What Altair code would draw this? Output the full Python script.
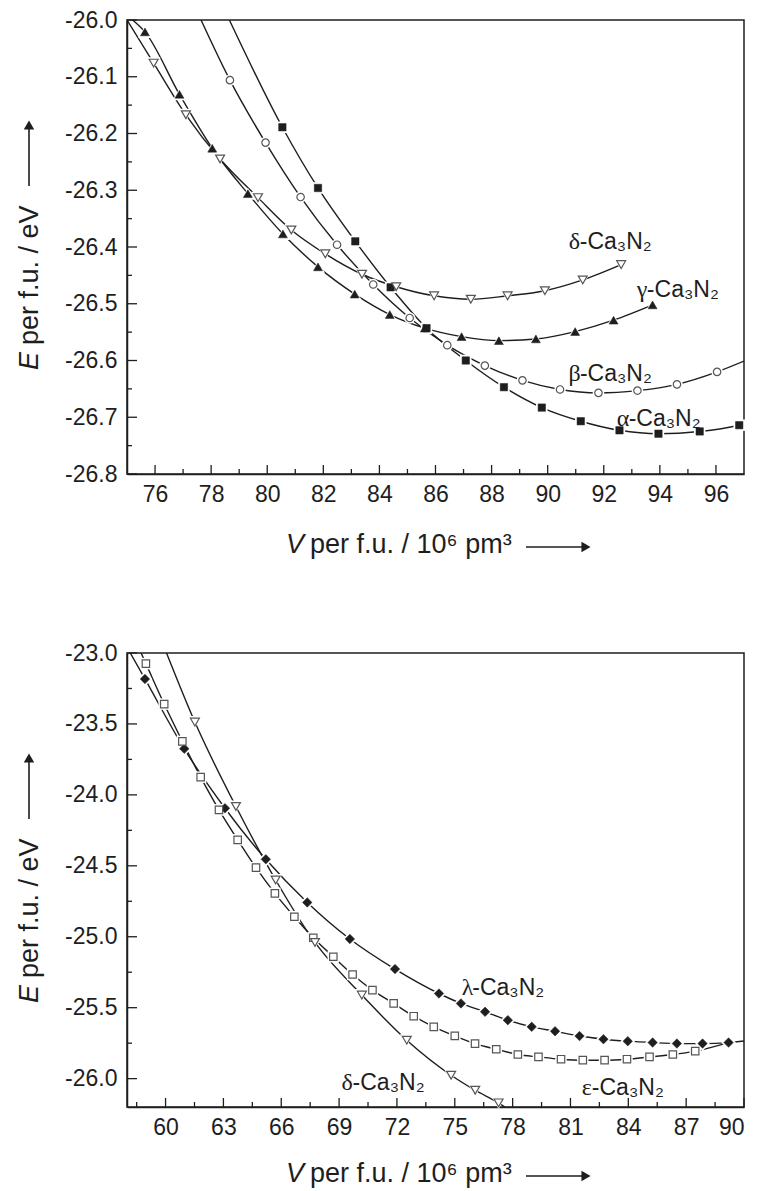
import altair as alt
import pandas as pd

# ---------------- data ----------------
# top panel: alpha, beta, gamma, delta Ca3N2
TOP_ALPHA_V = [80.54, 81.81, 83.14, 84.40, 85.68, 87.08, 88.44, 89.79, 91.18, 92.56, 93.95, 95.42, 96.83]
TOP_ALPHA_E = [-26.189, -26.296, -26.390, -26.471, -26.543, -26.600, -26.647, -26.683, -26.707, -26.723, -26.729, -26.725, -26.714]
TOP_BETA_V = [78.67, 79.94, 81.19, 82.49, 83.78, 85.08, 86.42, 87.76, 89.10, 90.44, 91.81, 93.20, 94.61, 96.04]
TOP_BETA_E = [-26.106, -26.216, -26.312, -26.396, -26.466, -26.525, -26.573, -26.609, -26.635, -26.651, -26.657, -26.653, -26.642, -26.620]
TOP_GAMMA_V = [75.64, 76.87, 78.04, 79.31, 80.56, 81.81, 83.12, 84.37, 85.62, 86.93, 88.26, 89.58, 90.98, 92.35, 93.74]
TOP_GAMMA_E = [-26.021, -26.131, -26.226, -26.306, -26.377, -26.435, -26.483, -26.519, -26.543, -26.558, -26.565, -26.562, -26.549, -26.529, -26.502]
TOP_DELTA_V = [75.95, 77.10, 78.32, 79.67, 80.86, 82.07, 83.38, 84.60, 85.95, 87.26, 88.57, 89.90, 91.25, 92.62]
TOP_DELTA_E = [-26.076, -26.167, -26.245, -26.313, -26.370, -26.412, -26.448, -26.470, -26.486, -26.492, -26.486, -26.477, -26.458, -26.431]
# where the fitted curves meet the frame
TOP_ALPHA_EDGE_V, TOP_ALPHA_EDGE_E = [78.65, 97.0], [-26.0, -26.712]
TOP_BETA_EDGE_V, TOP_BETA_EDGE_E = [77.64, 97.0], [-26.0, -26.601]
TOP_GAMMA_EDGE_V, TOP_GAMMA_EDGE_E = [75.2], [-26.0]
TOP_DELTA_EDGE_V, TOP_DELTA_EDGE_E = [75.0], [-26.0]

# bottom panel: lambda, epsilon, delta Ca3N2
BOT_LAMBDA_V = [58.93, 60.97, 63.08, 65.20, 67.35, 69.56, 71.90, 74.18, 75.32, 76.57, 77.75, 78.99, 80.20, 81.47, 82.71, 83.97, 85.26, 86.52, 87.85, 89.20]
BOT_LAMBDA_E = [-23.183, -23.675, -24.094, -24.454, -24.758, -25.016, -25.228, -25.400, -25.470, -25.529, -25.588, -25.635, -25.666, -25.700, -25.722, -25.736, -25.746, -25.753, -25.753, -25.746]
BOT_EPS_V = [58.98, 59.93, 60.87, 61.82, 62.77, 63.74, 64.69, 65.67, 66.68, 67.66, 68.70, 69.70, 70.73, 71.83, 72.87, 73.91, 75.00, 76.05, 77.15, 78.27, 79.34, 80.51, 81.64, 82.77, 83.93, 85.10, 86.31, 87.47]
BOT_EPS_E = [-23.075, -23.360, -23.623, -23.875, -24.106, -24.317, -24.513, -24.694, -24.859, -25.007, -25.141, -25.266, -25.376, -25.470, -25.560, -25.635, -25.699, -25.753, -25.793, -25.830, -25.847, -25.863, -25.870, -25.870, -25.863, -25.847, -25.830, -25.806]
BOT_DELTA_V = [61.52, 63.65, 65.71, 67.75, 70.18, 72.51, 74.81, 76.06, 77.27]
BOT_DELTA_E = [-23.487, -24.082, -24.600, -25.040, -25.411, -25.729, -25.976, -26.082, -26.171]
BOT_LAMBDA_EDGE_V, BOT_LAMBDA_EDGE_E = [58.17, 90.0], [-23.0, -25.735]
BOT_EPS_EDGE_V, BOT_EPS_EDGE_E = [58.73, 89.2], [-23.0, -25.746]
BOT_DELTA_EDGE_V, BOT_DELTA_EDGE_E = [60.05, 77.6], [-23.0, -26.2]

# curve labels
TOP_LABEL_GREEK = ["δ", "γ", "β", "α"]
TOP_LABEL_V = [90.75, 93.18, 90.74, 92.46]
TOP_LABEL_E = [-26.404, -26.488, -26.637, -26.716]
BOT_LABEL_GREEK = ["λ", "ε", "δ"]
BOT_LABEL_V = [75.36, 81.59, 69.13]
BOT_LABEL_E = [-25.411, -26.117, -26.082]

# axes
TOP_X_DOMAIN, TOP_Y_DOMAIN = [75, 97], [-26.8, -26.0]
TOP_X_MAJOR = [76, 78, 80, 82, 84, 86, 88, 90, 92, 94, 96]
TOP_X_MINOR = [77, 79, 81, 83, 85, 87, 89, 91, 93, 95]
TOP_Y_MAJOR = [-26.8, -26.7, -26.6, -26.5, -26.4, -26.3, -26.2, -26.1, -26.0]
TOP_Y_MINOR = [-26.75, -26.65, -26.55, -26.45, -26.35, -26.25, -26.15, -26.05]
BOT_X_DOMAIN, BOT_Y_DOMAIN = [58, 90], [-26.2, -23.0]
BOT_X_MAJOR = [60, 63, 66, 69, 72, 75, 78, 81, 84, 87, 90]
BOT_X_MINOR = [58.5, 61.5, 64.5, 67.5, 70.5, 73.5, 76.5, 79.5, 82.5, 85.5, 88.5]
BOT_Y_MAJOR = [-26.0, -25.5, -25.0, -24.5, -24.0, -23.5, -23.0]
BOT_Y_MINOR = [-25.75, -25.25, -24.75, -24.25, -23.75, -23.25]

# ---------------- styling ----------------
W, H = 617, 454
INK = "#1e1e1e"
GREY = "#555555"
SANS = "Liberation Sans"
SERIF = "Liberation Serif"
TICK_FS = 23
LABEL_FS = 23
TITLE_FS = 27
GREEK_W = {"δ": 11, "γ": 10, "β": 11.5, "α": 12, "λ": 10.5, "ε": 10}

STYLE = {
    "alpha": dict(shape="square", filled=True, size=55),
    "beta": dict(shape="circle", filled=False, size=55),
    "gamma": dict(shape="triangle-up", filled=True, size=80),
    "delta": dict(shape="triangle-down", filled=False, size=80),
    "lambda": dict(shape="diamond", filled=True, size=90),
    "eps": dict(shape="square", filled=False, size=55),
}


def xy(xdom, ydom, xvals, yvals, xfmt, yfmt):
    minus = "\u2212"
    x = alt.X("v:Q", scale=alt.Scale(domain=xdom, nice=False, zero=False),
              axis=alt.Axis(values=xvals, ticks=False, grid=False, title=None,
                            labelPadding=9, labelOverlap=False,
                            labelExpr=f"replace(format(datum.value, '{xfmt}'), '{minus}', '-')"))
    y = alt.Y("e:Q", scale=alt.Scale(domain=ydom, nice=False, zero=False),
              axis=alt.Axis(values=yvals, ticks=False, grid=False, title=None,
                            labelPadding=10, labelOverlap=False,
                            labelExpr=f"replace(format(datum.value, '{yfmt}'), '{minus}', '-')"))
    return x, y


def panel(series, labels, xdom, ydom, xmaj, xmin, ymaj, ymin, xfmt, yfmt, xtitle_dy, anchor=False):
    X, Y = xy(xdom, ydom, xmaj, ymaj, xfmt, yfmt)
    layers = []
    # curves
    for key, v, e, ev, ee in series:
        df = pd.DataFrame({"v": v + ev, "e": e + ee}).sort_values("v")
        layers.append(alt.Chart(df).mark_line(interpolate="monotone", clip=True, color=INK,
                                              strokeWidth=1.4).encode(x=X, y=Y))
    # white halos (gaps in lines around symbols)
    for key, v, e, ev, ee in series:
        st = STYLE[key]
        df = pd.DataFrame({"v": v, "e": e})
        layers.append(alt.Chart(df).mark_point(shape=st["shape"], filled=True, color="white",
                                               opacity=1, size=st["size"] * 2.4).encode(x=X, y=Y))
    # symbols
    for key, v, e, ev, ee in series:
        st = STYLE[key]
        df = pd.DataFrame({"v": v, "e": e})
        if st["filled"]:
            m = alt.Chart(df).mark_point(shape=st["shape"], filled=True, fill=INK, stroke=INK,
                                         strokeWidth=0.5, opacity=1, size=st["size"])
        else:
            m = alt.Chart(df).mark_point(shape=st["shape"], filled=False, fill="white", fillOpacity=1,
                                         stroke=GREY, strokeWidth=1.2, opacity=1, size=st["size"])
        layers.append(m.encode(x=X, y=Y))
    # inward ticks
    for vals, ln in ((xmaj, 9), (xmin, 5)):
        df = pd.DataFrame({"v": vals})
        layers.append(alt.Chart(df).mark_rule(color=INK, strokeWidth=1.3).encode(
            x=X, y=alt.value(H), y2=alt.value(H - ln)))
    for vals, ln in ((ymaj, 10), (ymin, 5)):
        df = pd.DataFrame({"e": vals})
        layers.append(alt.Chart(df).mark_rule(color=INK, strokeWidth=1.3).encode(
            y=Y, x=alt.value(0), x2=alt.value(ln)))
    # curve labels
    g, lv, le = labels
    for ch, v, e in zip(g, lv, le):
        df = pd.DataFrame({"v": [v], "e": [e], "g": [ch], "r": ["-Ca\u2083N\u2082"]})
        layers.append(alt.Chart(df).mark_text(font=SERIF, fontSize=LABEL_FS + 1, align="left",
                                              baseline="alphabetic", color=INK).encode(x=X, y=Y, text="g:N"))
        layers.append(alt.Chart(df).mark_text(font=SANS, fontSize=LABEL_FS, align="left",
                                              baseline="alphabetic", color=INK,
                                              dx=GREEK_W[ch]).encode(x=X, y=Y, text="r:N"))
    # x-axis title: italic V + rest + arrow
    tdf = pd.DataFrame({"a": ["V"], "b": ["per f.u. / 10\u2076 pm\u00b3"]})
    ty = H + xtitle_dy
    layers.append(alt.Chart(tdf).mark_text(font=SANS, fontSize=TITLE_FS, fontStyle="italic", align="left",
                                           baseline="alphabetic", color=INK).encode(
        x=alt.value(159), y=alt.value(ty), text="a:N"))
    layers.append(alt.Chart(tdf).mark_text(font=SANS, fontSize=TITLE_FS, align="left",
                                           baseline="alphabetic", color=INK).encode(
        x=alt.value(159 + 24), y=alt.value(ty), text="b:N"))
    layers.append(alt.Chart(tdf).mark_rule(color=INK, strokeWidth=1.6).encode(
        x=alt.value(399), x2=alt.value(458), y=alt.value(ty - 6)))
    layers.append(alt.Chart(tdf).mark_point(shape="triangle-right", filled=True, color=INK, opacity=1,
                                            size=110).encode(x=alt.value(459), y=alt.value(ty - 6)))
    # y-axis title: italic E + rest + arrow (rotated)
    ydf = pd.DataFrame({"a": ["E"], "b": ["per f.u. / eV"]})
    layers.append(alt.Chart(ydf).mark_text(font=SANS, fontSize=TITLE_FS, fontStyle="italic", align="left",
                                           baseline="alphabetic", angle=270, color=INK).encode(
        x=alt.value(-89), y=alt.value(350), text="a:N"))
    layers.append(alt.Chart(ydf).mark_text(font=SANS, fontSize=TITLE_FS, align="left",
                                           baseline="alphabetic", angle=270, color=INK).encode(
        x=alt.value(-89), y=alt.value(350 - 25), text="b:N"))
    layers.append(alt.Chart(ydf).mark_rule(color=INK, strokeWidth=1.6).encode(
        x=alt.value(-98), y=alt.value(166), y2=alt.value(106)))
    layers.append(alt.Chart(ydf).mark_point(shape="triangle-up", filled=True, color=INK, opacity=1,
                                            size=110).encode(x=alt.value(-98), y=alt.value(105)))
    if anchor:
        layers.append(alt.Chart(ydf).mark_rule(strokeOpacity=0, strokeWidth=0).encode(
            x=alt.value(-126), x2=alt.value(-125), y=alt.value(-18.5)))
    return alt.layer(*layers).properties(width=W, height=H)


top = panel(
    [("alpha", TOP_ALPHA_V, TOP_ALPHA_E, TOP_ALPHA_EDGE_V, TOP_ALPHA_EDGE_E),
     ("beta", TOP_BETA_V, TOP_BETA_E, TOP_BETA_EDGE_V, TOP_BETA_EDGE_E),
     ("gamma", TOP_GAMMA_V, TOP_GAMMA_E, TOP_GAMMA_EDGE_V, TOP_GAMMA_EDGE_E),
     ("delta", TOP_DELTA_V, TOP_DELTA_E, TOP_DELTA_EDGE_V, TOP_DELTA_EDGE_E)],
    (TOP_LABEL_GREEK, TOP_LABEL_V, TOP_LABEL_E),
    TOP_X_DOMAIN, TOP_Y_DOMAIN, TOP_X_MAJOR, TOP_X_MINOR, TOP_Y_MAJOR, TOP_Y_MINOR,
    "d", ".1f", 79, anchor=True)

bottom = panel(
    [("lambda", BOT_LAMBDA_V, BOT_LAMBDA_E, BOT_LAMBDA_EDGE_V, BOT_LAMBDA_EDGE_E),
     ("eps", BOT_EPS_V, BOT_EPS_E, BOT_EPS_EDGE_V, BOT_EPS_EDGE_E),
     ("delta", BOT_DELTA_V, BOT_DELTA_E, BOT_DELTA_EDGE_V, BOT_DELTA_EDGE_E)],
    (BOT_LABEL_GREEK, BOT_LABEL_V, BOT_LABEL_E),
    BOT_X_DOMAIN, BOT_Y_DOMAIN, BOT_X_MAJOR, BOT_X_MINOR, BOT_Y_MAJOR, BOT_Y_MINOR,
    "d", ".1f", 75)

chart = alt.vconcat(top, bottom, spacing=179, bounds="flush").properties(
    padding={"left": 0, "top": 0, "right": 0, "bottom": 0},
    background="white",
).configure_view(stroke=INK, strokeWidth=1.5).configure_axis(
    labelFont=SANS, labelFontSize=TICK_FS, labelColor=INK,
    domainColor=INK, domainWidth=1.5, tickSize=0,
)

chart.save("out.html", embed_options={"renderer": "svg", "actions": False})
